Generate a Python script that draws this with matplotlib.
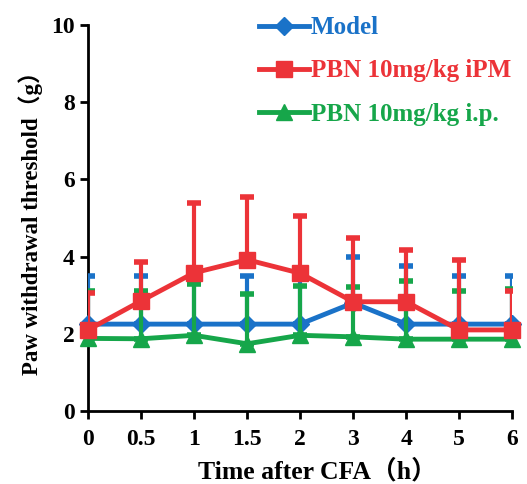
import matplotlib
matplotlib.use("Agg")
import matplotlib.pyplot as plt
import numpy as np

# time points (h) after CFA, plotted as equally spaced categories
times = ["0", "0.5", "1", "1.5", "2", "3", "4", "5", "6"]

model = [2.25, 2.25, 2.25, 2.25, 2.25, 2.8, 2.25, 2.25, 2.25]
model_err = [1.25, 1.25, 1.25, 1.25, 1.25, 1.2, 1.5, 1.25, 1.25]

ipm = [2.1, 2.85, 3.58, 3.92, 3.57, 2.83, 2.83, 2.1, 2.1]
ipm_err = [0.95, 1.02, 1.82, 1.63, 1.47, 1.66, 1.35, 1.8, 1.0]

ip = [1.88, 1.87, 1.96, 1.74, 1.96, 1.92, 1.86, 1.86, 1.86]
ip_err = [1.22, 1.25, 1.32, 1.3, 1.29, 1.3, 1.5, 1.26, 1.29]

labels = ["Model", "PBN 10mg/kg iPM", "PBN 10mg/kg i.p."]
colors = ["#1a72c8", "#ec3338", "#16a64a"]
markers = ["D", "s", "^"]

plt.rcParams["font.family"] = ["Liberation Serif", "Noto Sans CJK SC"]
plt.rcParams["font.weight"] = "bold"

fig = plt.figure(figsize=(5.27, 4.84), dpi=100)
ax = fig.add_axes([0.167, 0.151, 0.805, 0.797])

x = np.arange(len(times))
series = [model, ipm, ip]
errs = [model_err, ipm_err, ip_err]
zorders = [3, 5, 4]

for vals, err, lab, col, mk, z in zip(series, errs, labels, colors, markers, zorders):
    ax.errorbar(x, vals, yerr=[np.zeros(len(err)), err], fmt="none",
                ecolor=col, elinewidth=3, capsize=5, capthick=4, zorder=z)
    ms = 9 if mk == "D" else 11
    ax.plot(x, vals, color=col, lw=3.5, marker=mk, ms=ms, label=lab,
            zorder=z + 0.5, clip_on=False)

ax.set_xlim(0, len(times) - 1)
ax.set_ylim(0, 10)
ax.set_xticks(x)
ax.set_xticklabels(times)
ax.set_yticks([0, 2, 4, 6, 8, 10])
ax.tick_params(axis="both", labelsize=17, width=2, length=6, direction="out")
ax.tick_params(axis="x", pad=7)
for s in ["top", "right"]:
    ax.spines[s].set_visible(False)
for s in ["left", "bottom"]:
    ax.spines[s].set_linewidth(2)

ax.set_xlabel("Time after CFA（h）", fontsize=18.5, fontweight="bold")
ax.xaxis.set_label_coords(0.54, -0.125)
ax.set_ylabel("Paw withdrawal threshold（g）", fontsize=16.5, fontweight="bold", labelpad=6)

leg = ax.legend(loc="upper left", bbox_to_anchor=(246 / 527, 1 - 4 / 484),
                bbox_transform=fig.transFigure, frameon=False, borderpad=0,
                fontsize=18, handlelength=2.0, labelspacing=0.8,
                labelcolor="linecolor", handletextpad=0.1)

fig.savefig("out.png", dpi=100)
